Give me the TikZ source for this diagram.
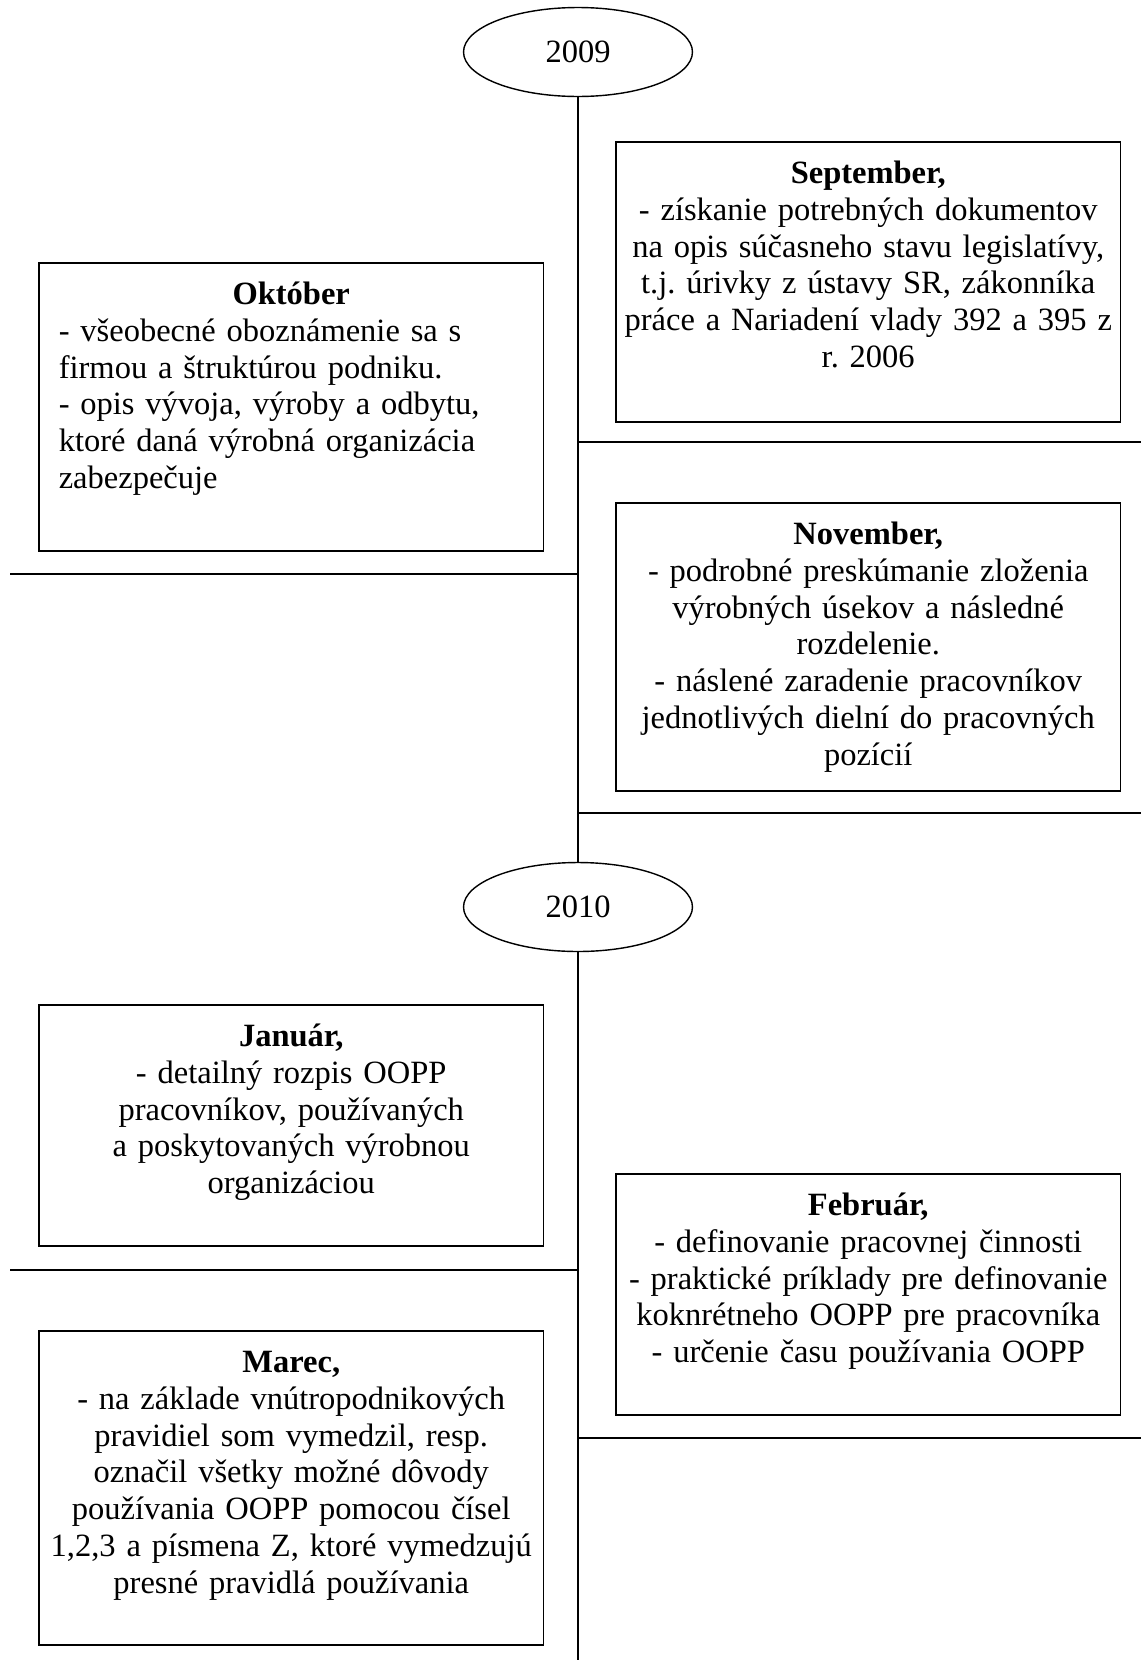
\documentclass[tikz,border=0pt]{standalone}
\usepackage{fontspec}
\setmainfont{Liberation Serif}
\usetikzlibrary{shapes.geometric, positioning}
\frenchspacing

\begin{document}
\begin{tikzpicture}[
    x=0.02cm,
    y=-0.02cm,
    year/.style={
        ellipse,
        draw=black,
        line width=0.8pt,
        minimum width=4.58cm,
        minimum height=1.78cm,
        inner sep=0pt,
        font=\fontsize{18.5}{20.9}\selectfont
    },
    month/.style={
        rectangle,
        draw=black,
        line width=0.9pt,
        anchor=north west,
        minimum width=10.1cm,
        inner sep=0pt,
        text width=10.1cm,
        text height=0.84cm,
        align=center,
        font=\fontsize{18.5}{20.9}\selectfont
    },
    tline/.style={line width=0.8pt}
]
\useasboundingbox (0,0) rectangle (1141,1660);

% Year ellipses
\node[year] (y2009) at (578,52)  {2009};
\node[year] (y2010) at (578,907) {2010};

% Month boxes, 2009
\node[month, text depth=4.76cm] (september) at (615,141) {\textbf{September,}\\
    - získanie potrebných dokumentov\\
    na opis súčasneho stavu legislatívy,\\
    t.j. úrivky z ústavy SR, zákonníka\\
    práce a Nariadení vlady 392 a 395 z\\
    r. 2006};
\node[month, text depth=4.92cm, text width=9.3cm, align=left] (oktober) at (38,262) {\makebox[\linewidth]{\textbf{Október}}\\
    - všeobecné oboznámenie sa s\\
    firmou a štruktúrou podniku.\\
    - opis vývoja, výroby a odbytu,\\
    ktoré daná výrobná organizácia\\
    zabezpečuje};
\node[month, text depth=4.92cm] (november) at (615,502) {\textbf{November,}\\
    - podrobné preskúmanie zloženia\\
    výrobných úsekov a následné\\
    rozdelenie.\\
    - náslené zaradenie pracovníkov\\
    jednotlivých dielní do pracovných\\
    pozícií};

% Month boxes, 2010
\node[month, text depth=3.98cm] (januar) at (38,1004) {\textbf{Január,}\\
    - detailný rozpis OOPP\\
    pracovníkov, používaných\\
    a poskytovaných výrobnou\\
    organizáciou};
\node[month, text depth=3.98cm] (februar) at (615,1173) {\textbf{Február,}\\
    - definovanie pracovnej činnosti\\
    - praktické príklady pre definovanie\\
    koknrétneho OOPP pre pracovníka\\
    - určenie času používania OOPP};
\node[month, text depth=5.44cm] (marec) at (38,1330) {\textbf{Marec,}\\
    - na základe vnútropodnikových\\
    pravidiel som vymedzil, resp.\\
    označil všetky možné dôvody\\
    používania OOPP pomocou čísel\\
    1,2,3 a písmena Z, ktoré vymedzujú\\
    presné pravidlá používania};

% Free ends of the lines
\coordinate (bottom)  at (578,1660);
\coordinate (sepEnd)  at (1141,442);
\coordinate (oktEnd)  at (10,574);
\coordinate (novEnd)  at (1141,813);
\coordinate (janEnd)  at (10,1270);
\coordinate (febEnd)  at (1141,1438);

% Timeline
\draw[tline] (y2009) -- (y2010);
\draw[tline] (y2010) -- (bottom);

% Separators
\draw[tline] (y2009 |- sepEnd) -- (sepEnd);
\draw[tline] (oktEnd) -- (y2009 |- oktEnd);
\draw[tline] (y2009 |- novEnd) -- (novEnd);
\draw[tline] (janEnd) -- (y2010 |- janEnd);
\draw[tline] (y2010 |- febEnd) -- (febEnd);

\end{tikzpicture}
\end{document}
